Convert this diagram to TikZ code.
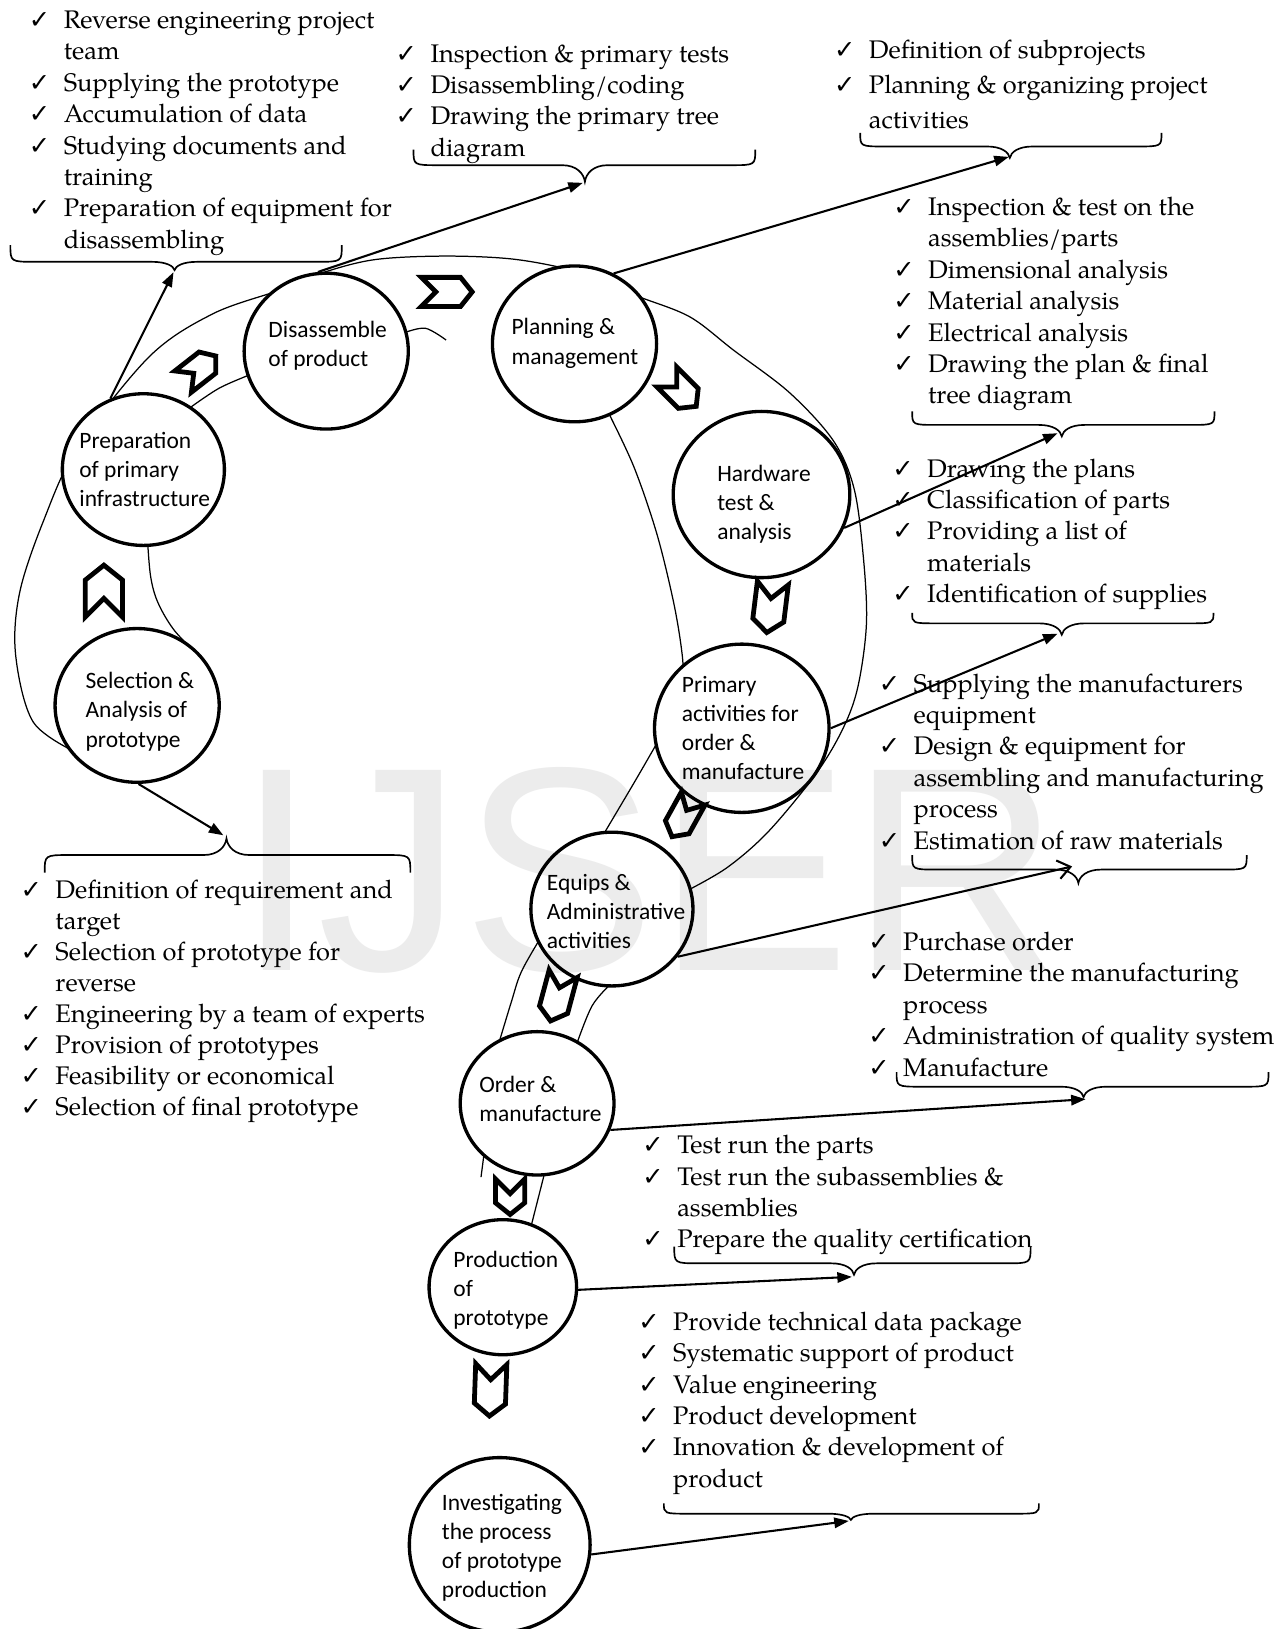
\documentclass[tikz,border=0pt]{standalone}
\usepackage{fontspec}
\newfontfamily\pal{TeX Gyre Pagella}
\newfontfamily\carlito{Carlito}
\newfontfamily\dejavu[Scale=1.0]{DejaVu Sans}
\newfontfamily\wmfont{Liberation Sans}
\usetikzlibrary{shapes.geometric,arrows.meta}
\newcommand\ck{\llap{{\dejavu ✓}\hspace{6.5pt}}}
\newcommand\chev[5]{%
  \begin{scope}[shift={(#1,#2)},rotate=#3]
    \draw[chevron] ({#4/2},0) -- ({#4/2-0.4*#5},{#5/2}) -- ({-#4/2},{#5/2})
      -- ({-#4/2+0.5*#5},0) -- ({-#4/2},{-#5/2}) -- ({#4/2-0.4*#5},{-#5/2}) -- cycle;
  \end{scope}}
\newcommand\ubr[6]{%
  \draw[brc] (#1,#3) .. controls (#1,#4) .. ({#1+24},#4) -- ({#5-22},#4)
    .. controls ({#5-8},#4) and ({#5-1},{(#4+#6)/2}) .. (#5,#6)
    .. controls ({#5+1},{(#4+#6)/2}) and ({#5+8},#4) .. ({#5+22},#4)
    -- ({#2-24},#4) .. controls (#2,#4) .. (#2,#3);}
\newcommand\circs{(138,452) ellipse [x radius=78, y radius=73]
  (132,679) ellipse [x radius=79, y radius=74]
  (314,338) ellipse [x radius=79, y radius=75]
  (553,331) ellipse [x radius=79, y radius=75]
  (733,476) ellipse [x radius=85, y radius=80]
  (714,701) ellipse [x radius=84, y radius=81]
  (589,875) ellipse [x radius=78, y radius=74]
  (517,1062) ellipse [x radius=74, y radius=69]
  (484,1239) ellipse [x radius=71, y radius=65]
  (481,1487) ellipse [x radius=87, y radius=84]}
\begin{document}
\begin{tikzpicture}[x=0.5pt,y=-0.5pt,
  circ/.style 2 args={ellipse, draw, line width=1.6pt, minimum width=#1pt, minimum height=#2pt, inner sep=0pt},
  ctext/.style={font=\carlito\fontsize{11.3}{14}\selectfont, align=left, inner sep=0pt, anchor=west},
  lst/.style={font=\pal\fontsize{12.25}{15.1}\selectfont, align=left, inner sep=0pt, anchor=north west},
  wmk/.style={font=\wmfont\fontsize{140}{140}\selectfont, text=gray!15, inner sep=0pt, anchor=base west},
  road/.style={line width=0.6pt},
  chevron/.style={line width=2.3pt, line join=miter},
  arr/.style={line width=1pt, -{Triangle[length=7pt,width=5pt]}},
  arro/.style={line width=1pt, -{Straight Barb[length=6pt,width=9pt]}},
  brc/.style={line width=0.8pt}]
\fill[white] (0,0) rectangle (1238,1568);
\useasboundingbox (0,0) rectangle (1238,1568);
\node[wmk] (wm) at (227,934) {IJSER};
% road lines
\draw[road] plot[smooth, tension=0.55] coordinates {(75,725) (32,695) (15,630) (19,570) (42,501) (75,430) (144,343) (205,302) (270,279) (309,263) (360,250) (426,246.5) (490,249) (542,258) (578,270) (615,285.6) (664,305) (706,337) (760,378) (802,424) (822,470) (831,536) (834,600) (826,660) (812,700) (786,744) (740,800) (700,835) (660,858)};
\draw[road] plot[smooth, tension=0.55] coordinates {(585,396) (610,449) (632,513) (648,578) (656,625) (657,650) (650,685) (632,716) (610,754) (578,808)};
\draw[road] plot[smooth, tension=0.55] coordinates {(142,520) (145,555) (152,580) (168,607) (195,635)};
\draw[road] plot[smooth, tension=0.55] coordinates {(178,396) (210.7,373.8) (245,359)};
\draw[road] plot[smooth, tension=0.55] coordinates {(390,320) (409.6,316) (429.4,327.3)};
\draw[road] plot[smooth, tension=0.55] coordinates {(522,900) (502,935) (492,965) (479,1008)};
\draw[road] plot[smooth, tension=0.55] coordinates {(590,945) (570,968) (554,1008)};
\draw[road] (466,1110) -- (463,1133);
\draw[road] (526,1122) -- (510,1185);
\fill[white] \circs;
\begin{scope}
\clip \circs;
\node[wmk] (wm2) at (227,934) {IJSER};
\end{scope}
% circles
\node[circ={78}{73}] (Pr) at (138,452) {};
\node[circ={79}{74}] (S) at (132,679) {};
\node[circ={79}{75}] (D) at (314,338) {};
\node[circ={79}{75}] (P) at (553,331) {};
\node[circ={85}{80}] (H) at (733,476) {};
\node[circ={84}{81}] (Pa) at (714,701) {};
\node[circ={78}{74}] (E) at (589,875) {};
\node[circ={74}{69}] (O) at (517,1062) {};
\node[circ={71}{65}] (Pp) at (484,1239) {};
\node[circ={87}{84}] (I) at (481,1487) {};
\node[ctext] (Prt) at (76,452) {Preparation\\of primary\\infrastructure};
\node[ctext] (St) at (82,685) {Selection \&\\Analysis of\\prototype};
\node[ctext] (Dt) at (258,333) {Disassemble\\of product};
\node[ctext] (Pt) at (492,330.5) {Planning \&\\management};
\node[ctext] (Ht) at (690,485) {Hardware\\test \&\\analysis};
\node[ctext] (Pat) at (656,701) {Primary\\activities for\\order \&\\manufacture};
\node[ctext] (Et) at (526,877) {Equips \&\\Administrative\\activities};
\node[ctext] (Ot) at (461,1058) {Order \&\\manufacture};
\node[ctext] (Ppt) at (436,1242) {Production\\of\\prototype};
\node[ctext] (It) at (425,1490) {Investigating\\the process\\of prototype\\production};
% chevrons
\chev{100}{569}{90}{50}{36}
\chev{192}{355}{38}{40}{26}
\chev{430}{281}{0}{49}{28}
\chev{656}{377}{-45}{40}{27}
\chev{741}{585}{-97}{48}{30}
\chev{657}{787}{-119}{42}{26}
\chev{536}{960}{-105}{47}{28}
\chev{491}{1152}{-90}{34}{28}
\chev{472}{1338}{-92}{50}{30}
% braces
\ubr{10}{329}{236}{252}{168}{260}
\ubr{398}{727}{144}{159}{563}{175}
\ubr{828}{1118}{128}{141}{972}{152}
\ubr{878}{1169}{396}{409}{1022}{420}
\ubr{878}{1168}{590}{600}{1022}{611}
\ubr{878}{1200}{823}{837}{1038}{850}
\ubr{863}{1221}{1032}{1046}{1043}{1056}
\ubr{649}{992}{1200}{1216}{822}{1227}
\ubr{639}{1000}{1447}{1457}{819}{1463}
\ubr{43}{395}{840}{823}{218}{807}
% arrow targets
\coordinate (b1) at (167,262);
\coordinate (b2) at (561,176);
\coordinate (b3) at (971,151);
\coordinate (b4) at (1018,417);
\coordinate (b5) at (1018,610);
\coordinate (b6) at (1032,834);
\coordinate (b7) at (1045,1058);
\coordinate (b8) at (820,1229);
\coordinate (b9) at (817,1464);
\coordinate (bS) at (215,804);
\draw[arr] (Pr.115) -- (b1);
\draw[arr] (D.96) -- (b2);
\draw[arr] (P.61) -- (b3);
\draw[arr] (H.-22) -- (b4);
\draw[arr] (Pa.0) -- (b5);
\draw[arro] (E.-36) -- (b6);
\draw[arr] (O.-20) -- (b7);
\draw[arr] (Pp.-2) -- (b8);
\draw[arr] (I.-6) -- (b9);
\draw[arr] (S.-89) -- (bS);
% text lists
\node[lst] (L1) at (61,5.9) {\strut\ck Reverse engineering project\\team\\\ck Supplying the prototype\\\ck Accumulation of data\\\ck Studying documents and\\training\\\ck Preparation of equipment for\\disassembling};
\node[lst] (L2) at (414,38.3) {\strut\ck Inspection \& primary tests\\\ck Disassembling/coding\\\ck Drawing the primary tree\\diagram};
\node[lst, font=\pal\fontsize{12.25}{16.8}\selectfont] (L3) at (836,32.7) {\strut\ck Definition of subprojects\\\ck Planning \& organizing project\\activities};
\node[lst] (L4) at (893,185.9) {\strut\ck Inspection \& test on the\\assemblies/parts\\\ck Dimensional analysis\\\ck Material analysis\\\ck Electrical analysis\\\ck Drawing the plan \& final\\tree diagram};
\node[lst] (L5) at (892,437.8) {\strut\ck Drawing the plans\\\ck Classification of parts\\\ck Providing a list of\\materials\\\ck Identification of supplies};
\node[lst] (L6) at (879,644.7) {\strut\ck Supplying the manufacturers\\equipment\\\ck Design \& equipment for\\assembling and manufacturing\\process\\\ck Estimation of raw materials};
\node[lst] (L7) at (869,893.4) {\strut\ck Purchase order\\\ck Determine the manufacturing\\process\\\ck Administration of quality system\\\ck Manufacture};
\node[lst] (L8) at (651.5,1088.9) {\strut\ck Test run the parts\\\ck Test run the subassemblies \&\\assemblies\\\ck Prepare the quality certification};
\node[lst] (L9) at (647.5,1258.9) {\strut\ck Provide technical data package\\\ck Systematic support of product\\\ck Value engineering\\\ck Product development\\\ck Innovation \& development of\\product};
\node[lst, font=\pal\fontsize{12.25}{14.9}\selectfont] (LS) at (53,843.7) {\strut\ck Definition of requirement and\\target\\\ck Selection of prototype for\\reverse\\\ck Engineering by a team of experts\\\ck Provision of prototypes\\\ck Feasibility or economical\\\ck Selection of final prototype};
\end{tikzpicture}
\end{document}
